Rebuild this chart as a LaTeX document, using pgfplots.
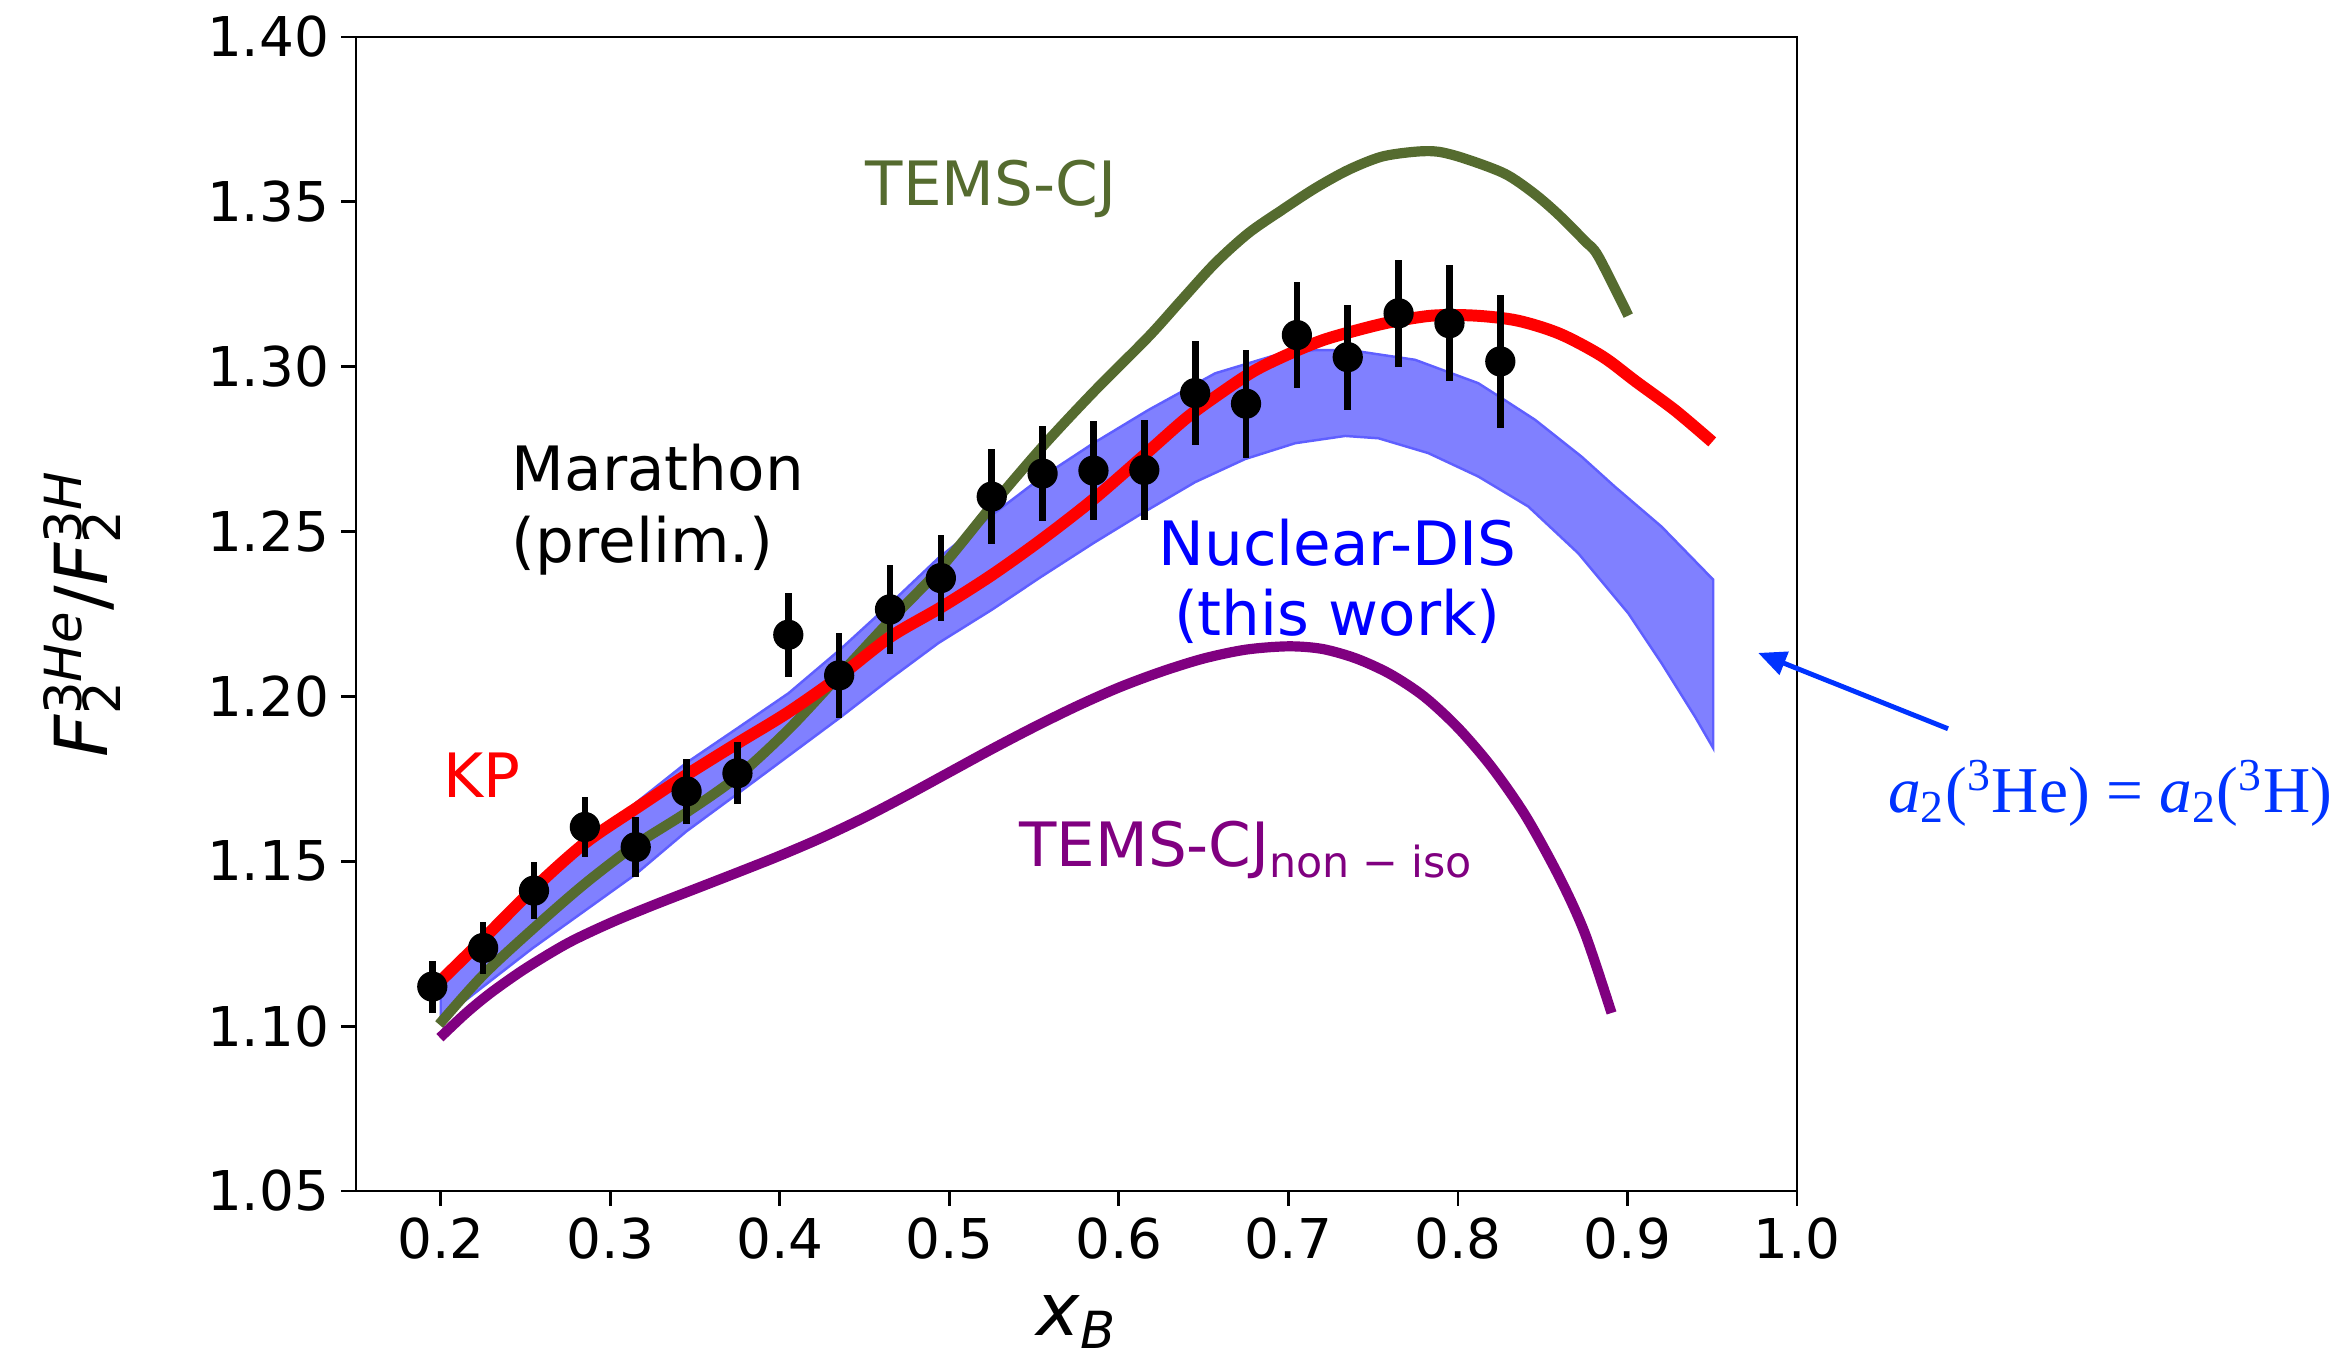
\documentclass[border=0pt]{standalone}
\usepackage{fontspec}
\setmainfont{DejaVu Sans}
\newfontfamily\serifa{Liberation Serif}
\usepackage{pgfplots}
\pgfplotsset{compat=1.18}
\usetikzlibrary{arrows.meta}
\definecolor{temsgreen}{RGB}{85,107,47}
\definecolor{kpred}{RGB}{255,0,0}
\definecolor{noniso}{RGB}{128,0,128}
\definecolor{bandfill}{RGB}{128,128,255}
\definecolor{bandedge}{RGB}{95,95,255}
\definecolor{annblue}{RGB}{0,51,255}
\begin{document}
\begin{tikzpicture}
\begin{axis}[name=ax, scale only axis, width=14.41cm, height=11.54cm,
  xmin=0.15, xmax=1.0, ymin=1.05, ymax=1.40, clip=false,
  axis line style={line width=0.8pt},
  tick style={line width=0.8pt, black},
  tick align=outside, tick pos=left, major tick length=0.145cm,
  xtick={0.2,0.3,0.4,0.5,0.6,0.7,0.8,0.9,1.0},
  ytick={1.05,1.10,1.15,1.20,1.25,1.30,1.35,1.40},
  x tick label style={/pgf/number format/fixed, /pgf/number format/fixed zerofill, /pgf/number format/precision=1},
  y tick label style={/pgf/number format/fixed, /pgf/number format/fixed zerofill, /pgf/number format/precision=2},
  /pgf/number format/assume math mode=true,
  tick label style={font=\fontsize{15.6}{18}\selectfont},
]
% Nuclear-DIS band
\addplot[fill=bandfill, draw=bandedge, line width=0.7pt] coordinates {
(0.200,1.1125) (0.225,1.1250) (0.250,1.1385) (0.275,1.1505) (0.300,1.1610) (0.3148,1.1676) (0.3447,1.1798) (0.3751,1.1904) (0.4052,1.2010) (0.4353,1.2141) (0.4655,1.2283) (0.4936,1.2420) (0.5251,1.2550) (0.5545,1.2665) (0.585,1.2768) (0.6175,1.2869) (0.6568,1.2980) (0.6961,1.3041) (0.715,1.3050) (0.7354,1.3051) (0.7747,1.3021) (0.812,1.2950) (0.8278,1.2898) (0.8455,1.2839) (0.873,1.2727) (0.8926,1.2636) (0.9201,1.2515) (0.9506,1.2354)
(0.9506,1.1843) (0.9398,1.1939) (0.9201,1.2101) (0.9005,1.2252) (0.871,1.2434) (0.8415,1.2576) (0.812,1.2667) (0.7825,1.2738) (0.7531,1.2783) (0.7335,1.2790) (0.704,1.2768) (0.6745,1.2720) (0.645,1.2650) (0.6155,1.2561) (0.585,1.2465) (0.5545,1.2364) (0.5251,1.2263) (0.4936,1.2162) (0.4655,1.2055) (0.4353,1.1935) (0.4052,1.1820) (0.3751,1.1705) (0.3447,1.1590) (0.3148,1.1460) (0.2538,1.1235) (0.200,1.1020)
} -- cycle;
% TEMS-CJ
\addplot[temsgreen, line width=2.9pt, smooth, tension=0.5] coordinates {
(0.199,1.1005) (0.225,1.1155) (0.255,1.1298) (0.285,1.1432) (0.315,1.1550) (0.345,1.1648) (0.375,1.1757) (0.405,1.1899) (0.435,1.2064) (0.465,1.2230) (0.495,1.2390) (0.525,1.2578) (0.555,1.2758) (0.585,1.2923) (0.6175,1.3091) (0.6371,1.3203) (0.6568,1.3314) (0.6764,1.3405) (0.6961,1.3475) (0.7157,1.3541) (0.7354,1.3597) (0.7550,1.3637) (0.7747,1.3652) (0.7884,1.3652) (0.8042,1.3631) (0.8278,1.3585) (0.8450,1.3525) (0.8592,1.3462) (0.8749,1.3381) (0.8828,1.3335) (0.9005,1.3155)
};
% KP
\addplot[kpred, line width=3.4pt, smooth, tension=0.5] coordinates {
(0.200,1.1138) (0.225,1.1264) (0.255,1.1418) (0.285,1.1555) (0.315,1.1660) (0.345,1.1762) (0.375,1.1858) (0.405,1.1952) (0.435,1.2060) (0.465,1.2180) (0.495,1.2270) (0.525,1.2368) (0.555,1.2478) (0.585,1.2598) (0.615,1.2732) (0.640,1.2845) (0.660,1.2920) (0.680,1.2988) (0.700,1.3038) (0.720,1.3080) (0.740,1.3110) (0.760,1.3135) (0.785,1.3155) (0.810,1.3155) (0.835,1.3140) (0.860,1.3100) (0.885,1.3032) (0.905,1.2955) (0.928,1.2868) (0.950,1.2772)
};
% TEMS-CJ non-iso
\addplot[noniso, line width=2.9pt, smooth, tension=0.5] coordinates {
(0.1995,1.0965) (0.215,1.1040) (0.230,1.1103) (0.250,1.1175) (0.275,1.1252) (0.300,1.1313) (0.325,1.1366) (0.350,1.1416) (0.375,1.1466) (0.400,1.1517) (0.425,1.1572) (0.450,1.1633) (0.475,1.1700) (0.500,1.1770) (0.525,1.1840) (0.550,1.1907) (0.575,1.1970) (0.600,1.2027) (0.625,1.2075) (0.650,1.2115) (0.675,1.2142) (0.700,1.2152) (0.720,1.2144) (0.740,1.2115) (0.760,1.2068) (0.780,1.2000) (0.800,1.1905) (0.820,1.1785) (0.840,1.1637) (0.860,1.1450) (0.875,1.1280) (0.8906,1.1040)
};
% Marathon data
\addplot[only marks, mark=*, mark size=4.1pt, mark options={draw=black, fill=black},
  error bars/.cd, y dir=both, y explicit, error mark=none,
  error bar style={line width=1.9pt, black}]
  table[x=x, y=y, y error=e] {
x y e
0.195 1.1120 0.0079
0.225 1.1237 0.0079
0.255 1.1411 0.0086
0.285 1.1604 0.0090
0.315 1.1543 0.0092
0.345 1.1712 0.0099
0.375 1.1767 0.0094
0.405 1.2187 0.0127
0.435 1.2064 0.0129
0.465 1.2264 0.0134
0.495 1.2359 0.0131
0.525 1.2606 0.0145
0.555 1.2676 0.0143
0.585 1.2685 0.0149
0.615 1.2687 0.0152
0.645 1.2920 0.0158
0.675 1.2888 0.0164
0.705 1.3096 0.0162
0.735 1.3029 0.0159
0.765 1.3162 0.0162
0.795 1.3132 0.0175
0.825 1.3016 0.0203
};
% annotations
\node[anchor=base west, inner sep=0pt, text=temsgreen, font=\fontsize{17.4}{20}\selectfont] at (axis cs:0.4503,1.3488) {TEMS-CJ};
\node[anchor=base west, inner sep=0pt, text=kpred, font=\fontsize{17.4}{20}\selectfont] at (axis cs:0.2012,1.1693) {KP};
\node[anchor=west, align=left, inner sep=0pt, text=black, font=\fontsize{17.4}{20.5}\selectfont] at (axis cs:0.2416,1.2567) {Marathon\\(prelim.)};
\node[anchor=center, align=center, inner sep=0pt, text=blue, font=\fontsize{17.4}{20}\selectfont] at (axis cs:0.7289,1.2350) {Nuclear-DIS\\(this work)};
\node[anchor=base west, inner sep=0pt, text=noniso, font=\fontsize{17.4}{20}\selectfont] at (axis cs:0.5408,1.1485) {TEMS-CJ\textsubscript{non\hspace{0.3em}−\hspace{0.3em}iso}};
\draw[annblue, line width=1.4pt, -{Triangle[length=0.28cm,width=0.24cm]}] (axis cs:1.0891,1.1902) -- (axis cs:0.9771,1.2132);
\node[anchor=base, inner sep=0pt, text=annblue, font=\fontsize{18.6}{22}\selectfont\serifa] at (axis cs:1.1847,1.1647) {\textit{a}\textsubscript{2}(\textsuperscript{3}He) = \textit{a}\textsubscript{2}(\textsuperscript{3}H)};
\end{axis}
\node[rotate=90, font=\fontsize{20.8}{24}\selectfont] at ([xshift=-2.74cm]ax.west) {\textit{F}\rlap{\textsubscript{2}}\textsuperscript{3\textit{He}}/\textit{F}\rlap{\textsubscript{2}}\textsuperscript{3\textit{H}}};
\node[font=\fontsize{20.8}{24}\selectfont] at ([yshift=-1.31cm]ax.south) {\textit{x}\textsubscript{\textit{B}}};
\pgfresetboundingbox
\path[use as bounding box] ([shift={(-3.56cm,-1.74cm)}]ax.south west) rectangle ([shift={(5.46cm,0.37cm)}]ax.north east);
\end{tikzpicture}
\end{document}
